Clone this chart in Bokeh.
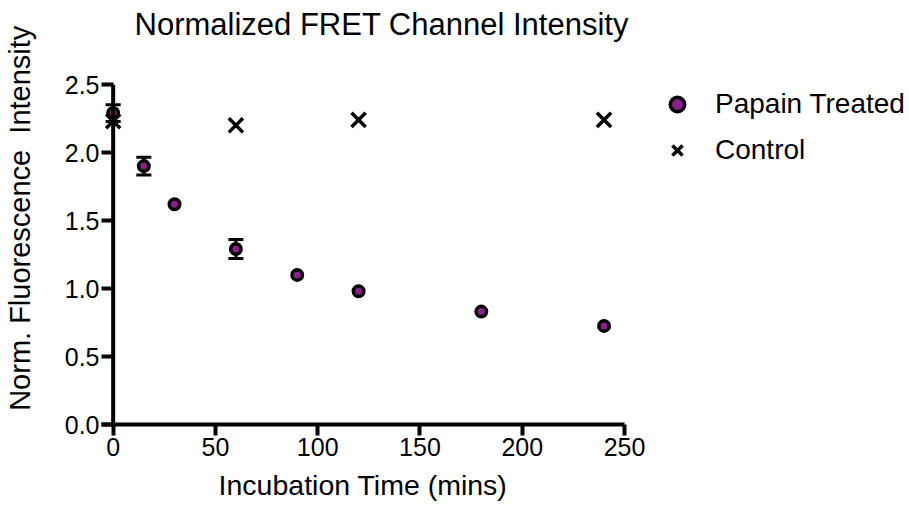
from bokeh.plotting import figure
from bokeh.models import (Range1d, Span, Whisker, TeeHead, ColumnDataSource, Legend,
                          LegendItem, FixedTicker, NumeralTickFormatter, Title)
from bokeh.embed import file_html
from bokeh.resources import INLINE

# ---- data ----
papain_time = [0, 15, 30, 60, 90, 120, 180, 240]
papain_mean = [2.29, 1.90, 1.62, 1.29, 1.10, 0.98, 0.83, 0.725]
papain_err = [0.062, 0.065, 0.0, 0.07, 0.0, 0.0, 0.0, 0.0]
control_time = [0, 60, 120, 240]
control_mean = [2.23, 2.20, 2.24, 2.24]

x_ticks = [0, 50, 100, 150, 200, 250]
y_ticks = [0.0, 0.5, 1.0, 1.5, 2.0, 2.5]

FONT = "Liberation Sans"
NB = "\u00a0"

p = figure(frame_width=523, frame_height=340, title=None,
           x_range=Range1d(-5.7, 250), y_range=Range1d(0, 2.5),
           output_backend="svg", toolbar_location=None,
           min_border_left=100, min_border_top=84, min_border_bottom=84, min_border_right=286,
           background_fill_color="white", border_fill_color="white", outline_line_color=None)
p.grid.visible = False

# blank spacer panel next to the frame (white no-break space)
p.add_layout(Title(text=NB, text_font=FONT, text_font_size="10px", text_color="white",
                   standoff=28), "above")
# title (outer panel)
p.add_layout(Title(text="Normalized FRET Channel Intensity", text_font=FONT,
                   text_font_size="31px", text_font_style="normal", text_color="black",
                   align="left", vertical_align="top", offset=33, standoff=0), "above")

# x axis
xa = p.xaxis[0]
xa.ticker = FixedTicker(ticks=x_ticks)
xa.axis_line_width = 4
xa.axis_line_color = "black"
xa.major_tick_line_width = 4
xa.major_tick_line_color = "black"
xa.major_tick_out = 11
xa.major_tick_in = 0
xa.minor_tick_line_color = None
xa.major_label_text_font = FONT
xa.major_label_text_font_size = "25px"
xa.major_label_text_color = "black"
xa.major_label_standoff = 2
xa.axis_label = "Incubation Time (mins)"
xa.axis_label_text_font = FONT
xa.axis_label_text_font_size = "28.5px"
xa.axis_label_text_font_style = "normal"
xa.axis_label_text_color = "black"
xa.axis_label_standoff = 10

# y axis (labels/ticks at frame edge, line drawn at x = 0)
ya = p.yaxis[0]
ya.ticker = FixedTicker(ticks=y_ticks)
ya.formatter = NumeralTickFormatter(format="0.0")
ya.axis_line_color = None
ya.major_tick_line_width = 4
ya.major_tick_line_color = "black"
ya.major_tick_out = 0
ya.major_tick_in = 12
ya.minor_tick_line_color = None
ya.major_label_text_font = FONT
ya.major_label_text_font_size = "25px"
ya.major_label_text_color = "black"
ya.major_label_standoff = 2
# leading no-break spaces shift the visible label toward the top, as in the reference
ya.axis_label = NB * 9 + "Norm. Fluorescence" + NB + " Intensity"
ya.axis_label_text_font = FONT
ya.axis_label_text_font_size = "29px"
ya.axis_label_text_font_style = "normal"
ya.axis_label_text_color = "black"
ya.axis_label_standoff = 26

p.add_layout(Span(location=0, dimension="height", line_width=4, line_color="black"))

# error bars
idx = [i for i, e in enumerate(papain_err) if e > 0]
wsrc = ColumnDataSource(dict(
    x=[papain_time[i] for i in idx],
    upper=[papain_mean[i] + papain_err[i] for i in idx],
    lower=[papain_mean[i] - papain_err[i] for i in idx],
))
w = Whisker(source=wsrc, base="x", upper="upper", lower="lower",
            line_width=3, line_color="black",
            upper_head=TeeHead(size=15, line_width=3, line_color="black"),
            lower_head=TeeHead(size=15, line_width=3, line_color="black"))
p.add_layout(w)

r1 = p.scatter(papain_time, papain_mean, marker="circle", size=10.5,
               fill_color="#8B1F8B", line_color="black", line_width=3.5)
r2 = p.scatter(control_time, control_mean, marker="x", size=20,
               line_color="black", line_width=3.5)

legend = Legend(items=[LegendItem(label="Papain Treated", renderers=[r1]),
                       LegendItem(label="Control", renderers=[r2])],
                location=(35, 256), margin=0, padding=0,
                glyph_width=36, glyph_height=36, label_height=36, spacing=10,
                label_standoff=20, label_text_font=FONT, label_text_font_size="28px",
                label_text_color="black",
                border_line_color=None, background_fill_alpha=0)
p.add_layout(legend, "right")

open("out.html", "w").write(file_html(p, INLINE))
